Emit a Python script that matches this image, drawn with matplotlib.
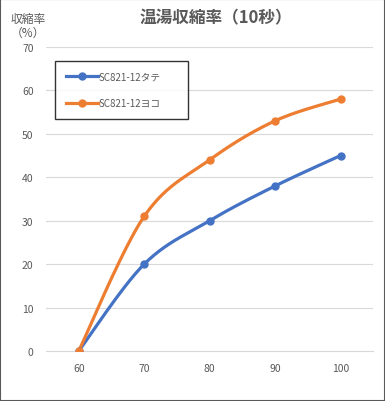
import numpy as np
import matplotlib.pyplot as plt
from matplotlib.patches import Rectangle

plt.rcParams['font.family'] = ['Noto Sans CJK JP', 'DejaVu Sans']

temps = [60, 70, 80, 90, 100]
tate = [0, 20, 30, 38, 45]
yoko = [0, 31, 44, 53, 58]
labels = ['SC821-12タテ', 'SC821-12ヨコ']
colors = ['#4472c4', '#ed7d31']


def smooth(xs, ys, n=40):
    # Catmull-Rom style bezier like Excel's smoothed line
    p = np.column_stack([xs, ys]).astype(float)
    p = np.vstack([p[0], p, p[-1]])
    out = []
    t = np.linspace(0, 1, n)[:, None]
    for i in range(1, len(p) - 2):
        p0, p1, p2, p3 = p[i - 1], p[i], p[i + 1], p[i + 2]
        c1 = p1 + (p2 - p0) / 6
        c2 = p2 - (p3 - p1) / 6
        seg = ((1 - t) ** 3) * p1 + 3 * ((1 - t) ** 2) * t * c1 + 3 * (1 - t) * t ** 2 * c2 + t ** 3 * p2
        out.append(seg if i == 1 else seg[1:])
    out = np.vstack(out)
    return out[:, 0], out[:, 1]


fig = plt.figure(figsize=(3.85, 4.02), dpi=100)
fig.patches.append(Rectangle((0, 0), 1, 1, transform=fig.transFigure,
                             fill=False, edgecolor='#595959', linewidth=1.5))
ax = fig.add_axes([0.1195, 0.1244, 0.85, 0.7562])

for ys, c, lab in zip([tate, yoko], colors, labels):
    sx, sy = smooth(temps, ys)
    ax.plot(sx, sy, color=c, linewidth=2.3, zorder=3)
    ax.plot(temps, ys, 'o', color=c, markersize=5, zorder=4)
    ax.plot([], [], '-o', color=c, linewidth=2.3, markersize=5, label=lab)

ax.set_xlim(55, 105)
ax.set_ylim(0, 70)
ax.set_xticks(temps)
ax.set_yticks(range(0, 71, 10))
ax.grid(axis='y', color='#d9d9d9', linewidth=0.8)
ax.set_axisbelow(True)
for s in ['top', 'right', 'left']:
    ax.spines[s].set_visible(False)
ax.spines['bottom'].set_color('#d9d9d9')
ax.tick_params(length=0, labelsize=7.5, labelcolor='#595959', pad=9)

fig.text(0.56, 0.955, '温湯収縮率（10秒）', ha='center', va='center',
         fontsize=12, fontweight='bold', color='#595959')
fig.text(0.072, 0.935, '収縮率\n（%）', ha='center', va='center',
         fontsize=8.5, color='#595959', linespacing=1.1)

leg = ax.legend(loc='upper left', bbox_to_anchor=(0.0275, 0.77, 0.407, 0.184),
                mode='expand', frameon=True,
                fancybox=False, fontsize=7, labelspacing=1.7, handlelength=3.3,
                borderpad=1.1, handletextpad=0.1, borderaxespad=0)
leg.get_frame().set_edgecolor('black')
leg.get_frame().set_linewidth(1.0)
for t in leg.get_texts():
    t.set_color('#595959')

fig.savefig('out.png', dpi=100)
